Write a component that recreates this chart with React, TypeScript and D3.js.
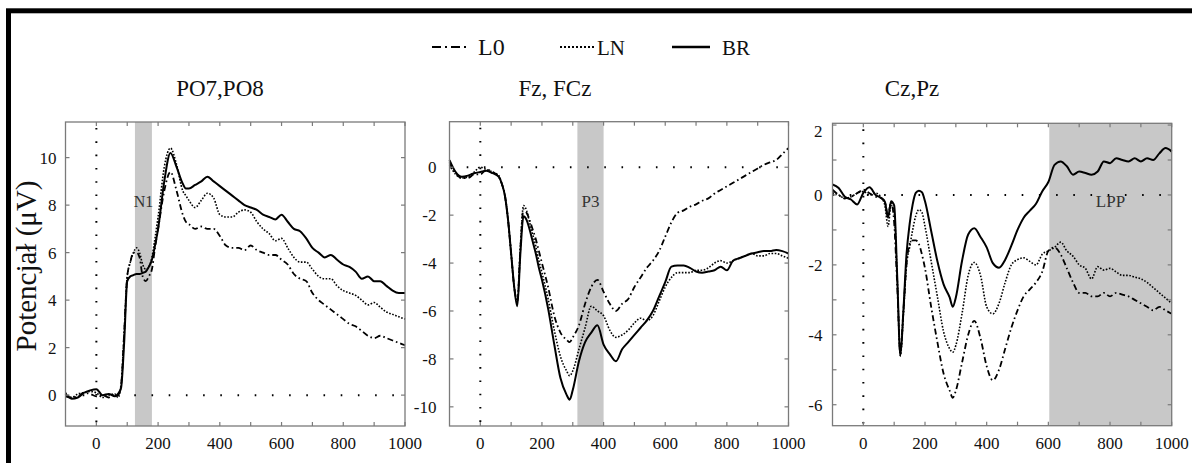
import React from "react";
import * as d3 from "d3";

const timesMs = [-100,-80,-60,-40,-20,0,20,40,60,70,80,90,100,110,120,130,140,150,160,170,180,190,200,220,240,260,280,290,300,320,340,360,380,400,420,440,460,480,500,520,540,560,580,600,620,640,660,680,700,720,740,760,780,800,820,840,860,880,900,920,940,960,980,1000];

// PO7,PO8
const po_BR = [0.05,-0.15,-0.1,0.1,0.2,0.25,0.0,0.05,-0.05,0.05,0.3,2.2,4.8,5.0,5.05,5.1,5.1,5.15,5.2,5.4,5.7,6.3,7.0,9.0,10.2,9.6,8.9,8.7,8.7,8.85,9.0,9.2,9.0,8.8,8.6,8.4,8.2,8.0,7.9,7.8,7.6,7.5,7.4,7.6,7.3,7.0,6.9,6.6,6.2,6.0,5.8,5.9,5.7,5.5,5.4,5.2,4.9,5.0,4.8,4.8,4.6,4.4,4.3,4.3];
const po_LN = [0.1,-0.1,0.05,0.1,0.15,0.1,-0.1,0.0,0.05,-0.1,0.4,2.6,5.0,5.6,6.0,6.2,6.0,5.5,5.3,5.4,5.8,6.6,7.5,9.6,10.4,9.7,8.6,8.4,8.2,7.9,8.2,8.5,8.3,7.6,7.5,7.5,7.7,7.8,7.7,7.3,7.0,6.8,6.5,6.6,6.2,5.8,5.6,5.6,5.3,5.0,4.9,4.9,4.6,4.4,4.3,4.2,4.0,3.8,3.9,3.7,3.5,3.4,3.3,3.2];
const po_L0 = [-0.05,-0.1,-0.05,0.1,0.05,-0.05,0.0,-0.1,0.0,0.0,0.4,2.6,5.0,5.6,6.0,6.0,5.8,5.0,4.8,5.0,5.3,6.2,7.0,8.6,9.4,8.6,7.6,7.3,7.2,7.0,7.1,7.0,7.0,6.7,6.3,6.2,6.2,6.1,6.3,6.1,6.0,5.9,5.9,5.7,5.5,5.1,4.9,4.8,4.3,4.0,3.8,3.6,3.4,3.2,3.0,2.9,2.7,2.5,2.4,2.5,2.4,2.3,2.2,2.1];

// Fz, FCz
const fz_BR = [0.3,-0.2,-0.4,-0.35,-0.25,-0.2,-0.15,-0.25,-0.4,-0.7,-1.2,-2.2,-3.6,-5.0,-5.8,-3.6,-2.05,-2.2,-2.6,-3.1,-3.6,-4.2,-4.7,-5.9,-7.4,-8.8,-9.5,-9.7,-9.3,-8.1,-7.3,-6.9,-6.6,-7.4,-7.8,-8.1,-7.6,-7.3,-7.0,-6.7,-6.4,-6.0,-5.4,-4.8,-4.15,-4.1,-4.1,-4.2,-4.35,-4.4,-4.35,-4.3,-4.15,-4.3,-3.9,-3.8,-3.7,-3.6,-3.55,-3.5,-3.5,-3.45,-3.5,-3.6];
const fz_LN = [0.1,-0.3,-0.45,-0.4,-0.2,0.0,-0.1,-0.2,-0.35,-0.7,-1.2,-2.2,-3.6,-5.0,-5.6,-3.3,-1.6,-1.8,-2.3,-2.8,-3.3,-3.9,-4.4,-5.5,-6.8,-7.9,-8.5,-8.7,-8.5,-7.6,-6.7,-5.8,-6.0,-6.2,-6.8,-7.1,-7.0,-6.8,-6.5,-6.3,-6.4,-6.2,-5.6,-5.0,-4.6,-4.4,-4.4,-4.4,-4.3,-4.3,-4.2,-4.0,-3.9,-4.0,-3.9,-3.8,-3.7,-3.6,-3.7,-3.7,-3.6,-3.6,-3.7,-3.8];
const fz_L0 = [0.2,-0.25,-0.45,-0.45,-0.3,-0.3,-0.1,-0.2,-0.4,-0.7,-1.2,-2.2,-3.6,-5.0,-5.6,-3.4,-1.75,-1.9,-2.2,-2.6,-3.0,-3.5,-4.0,-5.0,-6.2,-6.9,-7.2,-7.3,-7.1,-6.6,-5.7,-5.0,-4.7,-5.2,-5.7,-6.0,-5.7,-5.5,-5.0,-4.6,-4.2,-3.9,-3.5,-2.9,-2.3,-1.9,-1.8,-1.65,-1.55,-1.4,-1.3,-1.1,-0.95,-0.8,-0.65,-0.5,-0.35,-0.2,-0.05,0.1,0.2,0.3,0.55,0.8];

// Cz,Pz
const cz_BR = [0.3,0.2,-0.05,-0.13,-0.27,0.06,0.22,0.0,-0.1,-0.2,-0.65,-0.18,-0.3,-2.36,-4.6,-3.3,-1.7,-0.84,-0.27,0.06,0.12,0.08,-0.18,-1.03,-1.89,-2.55,-2.93,-3.2,-2.93,-1.89,-1.13,-0.95,-1.2,-1.5,-1.95,-2.08,-1.85,-1.45,-1.0,-0.65,-0.45,-0.25,0.1,0.37,0.86,0.96,0.82,0.58,0.67,0.63,0.58,0.67,0.96,0.91,1.05,1.0,0.96,1.05,0.96,1.05,1.0,1.19,1.34,1.24];
const cz_LN = [0.06,0.0,-0.1,-0.05,0.05,0.1,0.0,0.05,-0.1,-0.3,-0.9,-0.3,-0.5,-2.4,-4.6,-3.4,-2.0,-1.5,-1.0,-0.6,-0.42,-0.5,-0.9,-1.9,-2.9,-3.9,-4.4,-4.5,-4.3,-3.4,-2.3,-1.93,-2.3,-3.2,-3.4,-3.1,-2.5,-2.0,-1.85,-1.8,-1.9,-2.0,-1.7,-1.6,-1.5,-1.35,-1.6,-1.75,-2.0,-2.1,-2.4,-2.05,-2.15,-2.1,-2.2,-2.3,-2.3,-2.35,-2.4,-2.5,-2.65,-2.8,-2.95,-3.1];
const cz_L0 = [0.15,0.0,-0.1,-0.05,0.05,0.15,0.05,-0.05,-0.1,-0.2,-0.6,-0.2,-0.8,-2.6,-4.5,-3.3,-2.0,-1.4,-1.3,-1.3,-1.4,-1.7,-2.1,-3.2,-4.2,-5.1,-5.6,-5.8,-5.6,-4.8,-4.0,-3.6,-4.1,-4.9,-5.3,-5.0,-4.4,-3.8,-3.3,-2.9,-2.7,-2.5,-2.2,-1.6,-1.5,-1.7,-2.1,-2.5,-2.8,-2.8,-2.9,-2.9,-2.8,-2.9,-2.8,-2.85,-2.9,-3.0,-3.1,-3.2,-3.3,-3.2,-3.3,-3.4];

const panelTitles = ["PO7,PO8", "Fz, FCz", "Cz,Pz"];
const windowLabels = ["N1", "P3", "LPP"];
const windowRanges = [[125, 180], [315, 400], [603, 1000]];
const yTickValues = [[0, 2, 4, 6, 8, 10], [-10, -8, -6, -4, -2, 0], [-6, -5, -4, -3, -2, -1, 0, 1, 2]];
const yTickLabelValues = [[0, 2, 4, 6, 8, 10], [-10, -8, -6, -4, -2, 0], [-6, -4, -2, 0, 2]];
const xTickValues = [0, 100, 200, 300, 400, 500, 600, 700, 800, 900, 1000];
const xTickLabelValues = [0, 200, 400, 600, 800, 1000];
const legendLabels = ["L0", "LN", "BR"];
const yAxisTitle = "Potencjał (μV)";

const seriesByPanel = [
  [po_L0, po_LN, po_BR],
  [fz_L0, fz_LN, fz_BR],
  [cz_L0, cz_LN, cz_BR],
];

const layout = [
  { x0: 65.5, x1: 405, y0: 122, y1: 426, ydom: [-1.3, 11.5], titleX: 220, labGap: 9 },
  { x0: 449.5, x1: 788.5, y0: 121.7, y1: 426, ydom: [-10.8, 1.9], titleX: 555, labGap: 13 },
  { x0: 832.5, x1: 1171.7, y0: 123.3, y1: 425.7, ydom: [-6.6, 2.05], titleX: 912, labGap: 10 },
];

const styles = [
  { dash: "6,3,1.6,3", width: 1.8 },
  { dash: "1.6,1.6", width: 1.6 },
  { dash: null as string | null, width: 2 },
];

const FONT = "Liberation Serif";
const AXIS = "#7a7a7a";
const txt = (size: number) => ({ fontFamily: FONT, fontSize: size + "px" });

function Panel({ idx }: { idx: number }) {
  const L = layout[idx];
  const x = d3.scaleLinear().domain([-100, 1000]).range([L.x0, L.x1]);
  const y = d3.scaleLinear().domain(L.ydom).range([L.y1, L.y0]);
  const line = d3
    .line<number>()
    .x((_, i) => x(timesMs[i]))
    .y((v) => y(v))
    .curve(d3.curveMonotoneX);
  const [w0, w1] = windowRanges[idx];
  const tl = 4;
  return (
    <g>
      <rect x={x(w0)} y={L.y0} width={x(w1) - x(w0)} height={L.y1 - L.y0} fill="#c8c8c8" />
      <text x={(x(w0) + x(w1)) / 2} y={207} style={txt(idx === 0 ? 16 : 17)} fill="#333" textAnchor="middle">
        {windowLabels[idx]}
      </text>
      <line x1={L.x0} x2={L.x1} y1={y(0)} y2={y(0)} stroke="#000" strokeWidth={2} strokeDasharray="1.6,15.6" />
      <line x1={x(0)} x2={x(0)} y1={L.y0 + 6} y2={L.y1} stroke="#000" strokeWidth={2} strokeDasharray="1.6,11.7" />
      {seriesByPanel[idx].map((s, si) => (
        <path
          key={si}
          d={line(s) || ""}
          fill="none"
          stroke="#000"
          strokeWidth={styles[si].width}
          strokeDasharray={styles[si].dash || undefined}
          strokeLinejoin="round"
        />
      ))}
      <rect x={L.x0} y={L.y0} width={L.x1 - L.x0} height={L.y1 - L.y0} fill="none" stroke={AXIS} strokeWidth={1.3} />
      {xTickValues.map((t) => (
        <g key={"xt" + t}>
          <line x1={x(t)} x2={x(t)} y1={L.y1} y2={L.y1 - tl} stroke={AXIS} strokeWidth={1.2} />
          <line x1={x(t)} x2={x(t)} y1={L.y0} y2={L.y0 + tl} stroke={AXIS} strokeWidth={1.2} />
        </g>
      ))}
      {yTickValues[idx].map((t) => (
        <g key={"yt" + t}>
          <line x1={L.x0} x2={L.x0 + tl} y1={y(t)} y2={y(t)} stroke={AXIS} strokeWidth={1.2} />
          <line x1={L.x1} x2={L.x1 - tl} y1={y(t)} y2={y(t)} stroke={AXIS} strokeWidth={1.2} />
        </g>
      ))}
      {xTickLabelValues.map((t) => (
        <text key={"xl" + t} x={x(t)} y={449} style={txt(17)} textAnchor="middle" fill="#111">
          {t}
        </text>
      ))}
      {yTickLabelValues[idx].map((t) => (
        <text
          key={"yl" + t}
          x={L.x0 - L.labGap}
          y={Math.min(Math.max(y(t), L.y0 + 8), L.y1 - 8)}
          dy="0.35em"
          style={txt(17)}
          textAnchor="end"
          fill="#111"
        >
          {t}
        </text>
      ))}
      <text x={L.titleX} y={96} style={txt(23)} textAnchor="middle" fill="#111">
        {panelTitles[idx]}
      </text>
    </g>
  );
}

function Legend() {
  const items = [
    { x1: 432, x2: 466, tx: 478 },
    { x1: 560, x2: 595, tx: 597 },
    { x1: 672, x2: 710, tx: 722 },
  ];
  return (
    <g>
      {items.map((it, i) => (
        <g key={i}>
          <line
            x1={it.x1}
            x2={it.x2}
            y1={47}
            y2={47}
            stroke="#000"
            strokeWidth={i === 2 ? 2.6 : 2.2}
            strokeDasharray={i === 0 ? "9,4,2,4" : i === 1 ? "2,2" : undefined}
          />
          <text x={it.tx} y={55} style={txt(i === 0 ? 24 : 21)} fill="#111">
            {legendLabels[i]}
          </text>
        </g>
      ))}
    </g>
  );
}

export default function App() {
  return (
    <svg width={1192} height={463} style={{ position: "absolute", left: 0, top: 0, background: "#fff" }}>
      <rect x={0} y={0} width={1192} height={463} fill="#fff" />
      <rect x={8.5} y={10.8} width={1300} height={600} fill="none" stroke="#000" strokeWidth={5} />
      <Legend />
      {[0, 1, 2].map((i) => (
        <Panel key={i} idx={i} />
      ))}
      <text transform="translate(36,266) rotate(-90)" style={txt(29)} textAnchor="middle" fill="#111">
        {yAxisTitle}
      </text>
    </svg>
  );
}
